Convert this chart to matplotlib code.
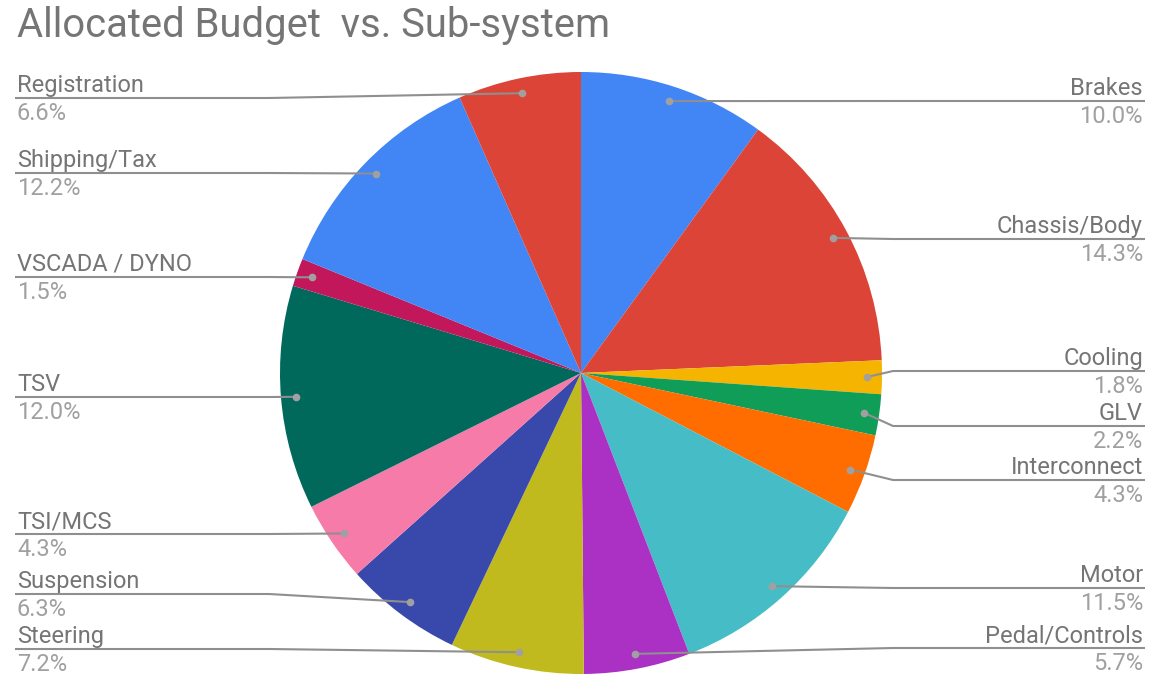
import matplotlib
matplotlib.use("Agg")
import numpy as np
import matplotlib.pyplot as plt

# data
labels = ["Brakes", "Chassis/Body", "Cooling", "GLV", "Interconnect", "Motor",
          "Pedal/Controls", "Steering", "Suspension", "TSI/MCS", "TSV",
          "VSCADA / DYNO", "Shipping/Tax", "Registration"]
shares = [10.0, 14.3, 1.8, 2.2, 4.3, 11.5, 5.7, 7.2, 6.3, 4.3, 12.0, 1.5, 12.2, 6.6]
colors = ["#4285F4", "#DB4437", "#F4B400", "#0F9D58", "#FF6D00", "#46BDC6",
          "#AB30C4", "#C0BA1E", "#3949AB", "#F67BA8", "#00695C", "#C2185B",
          "#4285F4", "#DB4437"]

# layout: label leader y positions in pixel rows (top = 0)
label_rows = [101, 239, 371, 426, 480, 588, 648, 649, 594, 534, 397, 277, 173, 98]

W, H = 1149, 676
cx, cy, R = 581, H - 373, 301

plt.rcParams['font.family'] = ['Roboto', 'DejaVu Sans']
fig = plt.figure(figsize=(W / 100, H / 100), dpi=100)
ax = fig.add_axes([0, 0, 1, 1])

wedges, _ = ax.pie(shares, colors=colors, startangle=90, counterclock=False,
                   center=(cx, cy), radius=R,
                   wedgeprops=dict(linewidth=0, antialiased=True))
ax.set_xlim(0, W)
ax.set_ylim(0, H)
ax.set_aspect('equal')
ax.axis('off')

line_c = '#8f8f8f'
name_c = '#757575'
pct_c = '#a0a0a0'
fs = 17

for w, name, val, row in zip(wedges, labels, shares, label_rows):
    mid = np.deg2rad((w.theta1 + w.theta2) / 2)
    dx = cx + 0.95 * R * np.cos(mid)
    dy = cy + 0.95 * R * np.sin(mid)
    ly = H - row
    if dx >= cx:
        kx, ex = cx + 312, 1145
        ha, tx = 'right', 1143
    else:
        kx, ex = cx - 312, 15
        ha, tx = 'left', 17
    ax.plot([dx, kx, ex], [dy, ly, ly], color=line_c, lw=1.5, zorder=3,
            solid_capstyle='butt')
    ax.plot(dx, dy, 'o', color='#a0a0a0', ms=5.5, zorder=4, mec='none')
    ax.text(tx, ly + 6, name, ha=ha, va='baseline', color=name_c, fontsize=fs)
    ax.text(tx, ly - 4, "%.1f%%" % val, ha=ha, va='top', color=pct_c, fontsize=fs)

fig.text(17 / W, 1 - 6 / H, "Allocated Budget  vs. Sub-system", ha='left', va='top',
         color=name_c, fontsize=28.8)

fig.savefig("out.png", dpi=100, facecolor='white')
